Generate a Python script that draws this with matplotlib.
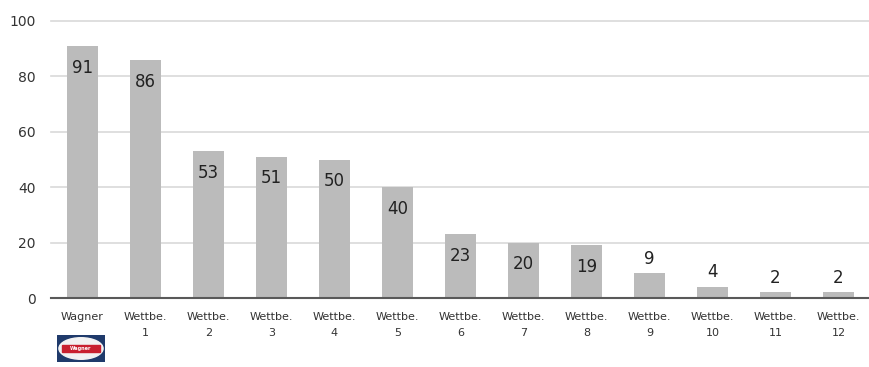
import matplotlib
matplotlib.use("Agg")
import matplotlib.pyplot as plt
from matplotlib.patches import Rectangle, Ellipse

categories = ["Wagner", "Wettbe.\n1", "Wettbe.\n2", "Wettbe.\n3", "Wettbe.\n4", "Wettbe.\n5",
              "Wettbe.\n6", "Wettbe.\n7", "Wettbe.\n8", "Wettbe.\n9", "Wettbe.\n10",
              "Wettbe.\n11", "Wettbe.\n12"]
values = [91, 86, 53, 51, 50, 40, 23, 20, 19, 9, 4, 2, 2]
yticks = [0, 20, 40, 60, 80, 100]

fig = plt.figure(figsize=(8.7, 3.67), dpi=100)
ax = fig.add_axes([51/870, 1 - 298/367, 819/870, (298-21)/367])

x = list(range(len(values)))
ax.bar(x, values, width=0.48, color="#BBBBBB", zorder=2)
ax.set_xlim(-0.5, len(values) - 0.5)
ax.set_ylim(0, 100)
ax.set_yticks(yticks)
ax.yaxis.grid(True, color="#D9D9D9", linewidth=1.2, zorder=0)
for gl in ax.yaxis.get_gridlines():
    gl.set_clip_on(False)
ax.set_axisbelow(True)
for s in ["top", "right", "left"]:
    ax.spines[s].set_visible(False)
ax.spines["bottom"].set_color("#595959")
ax.spines["bottom"].set_linewidth(1.5)
ax.spines["bottom"].set_zorder(3)
ax.tick_params(axis="y", length=0, pad=11, labelsize=10, colors="#333333")
ax.tick_params(axis="x", length=0, pad=10, labelsize=8, colors="#333333")
ax.set_xticks(x)
ax.set_xticklabels(categories, linespacing=1.75)

for xi, v in zip(x, values):
    if v >= 15:
        ax.text(xi, v - 4.6, str(v), ha="center", va="top", fontsize=12, color="#222222", zorder=4)
    else:
        ax.text(xi, v + 2.0, str(v), ha="center", va="bottom", fontsize=12, color="#222222", zorder=4)

# Small Wagner logo under first label
lax = fig.add_axes([57/870, 1 - 362/367, 48/870, 27/367])
lax.set_xlim(0, 1); lax.set_ylim(0, 1); lax.axis("off")
lax.add_patch(Rectangle((0, 0), 1, 1, color="#1f3a6b"))
lax.add_patch(Ellipse((0.5, 0.5), 0.92, 0.8, color="#f2f2f2"))
lax.add_patch(Rectangle((0.1, 0.38), 0.8, 0.24, color="#c8202f"))
lax.text(0.5, 0.5, "Wagner", ha="center", va="center", fontsize=3.5, color="white", weight="bold")

fig.savefig("out.png", dpi=100)
